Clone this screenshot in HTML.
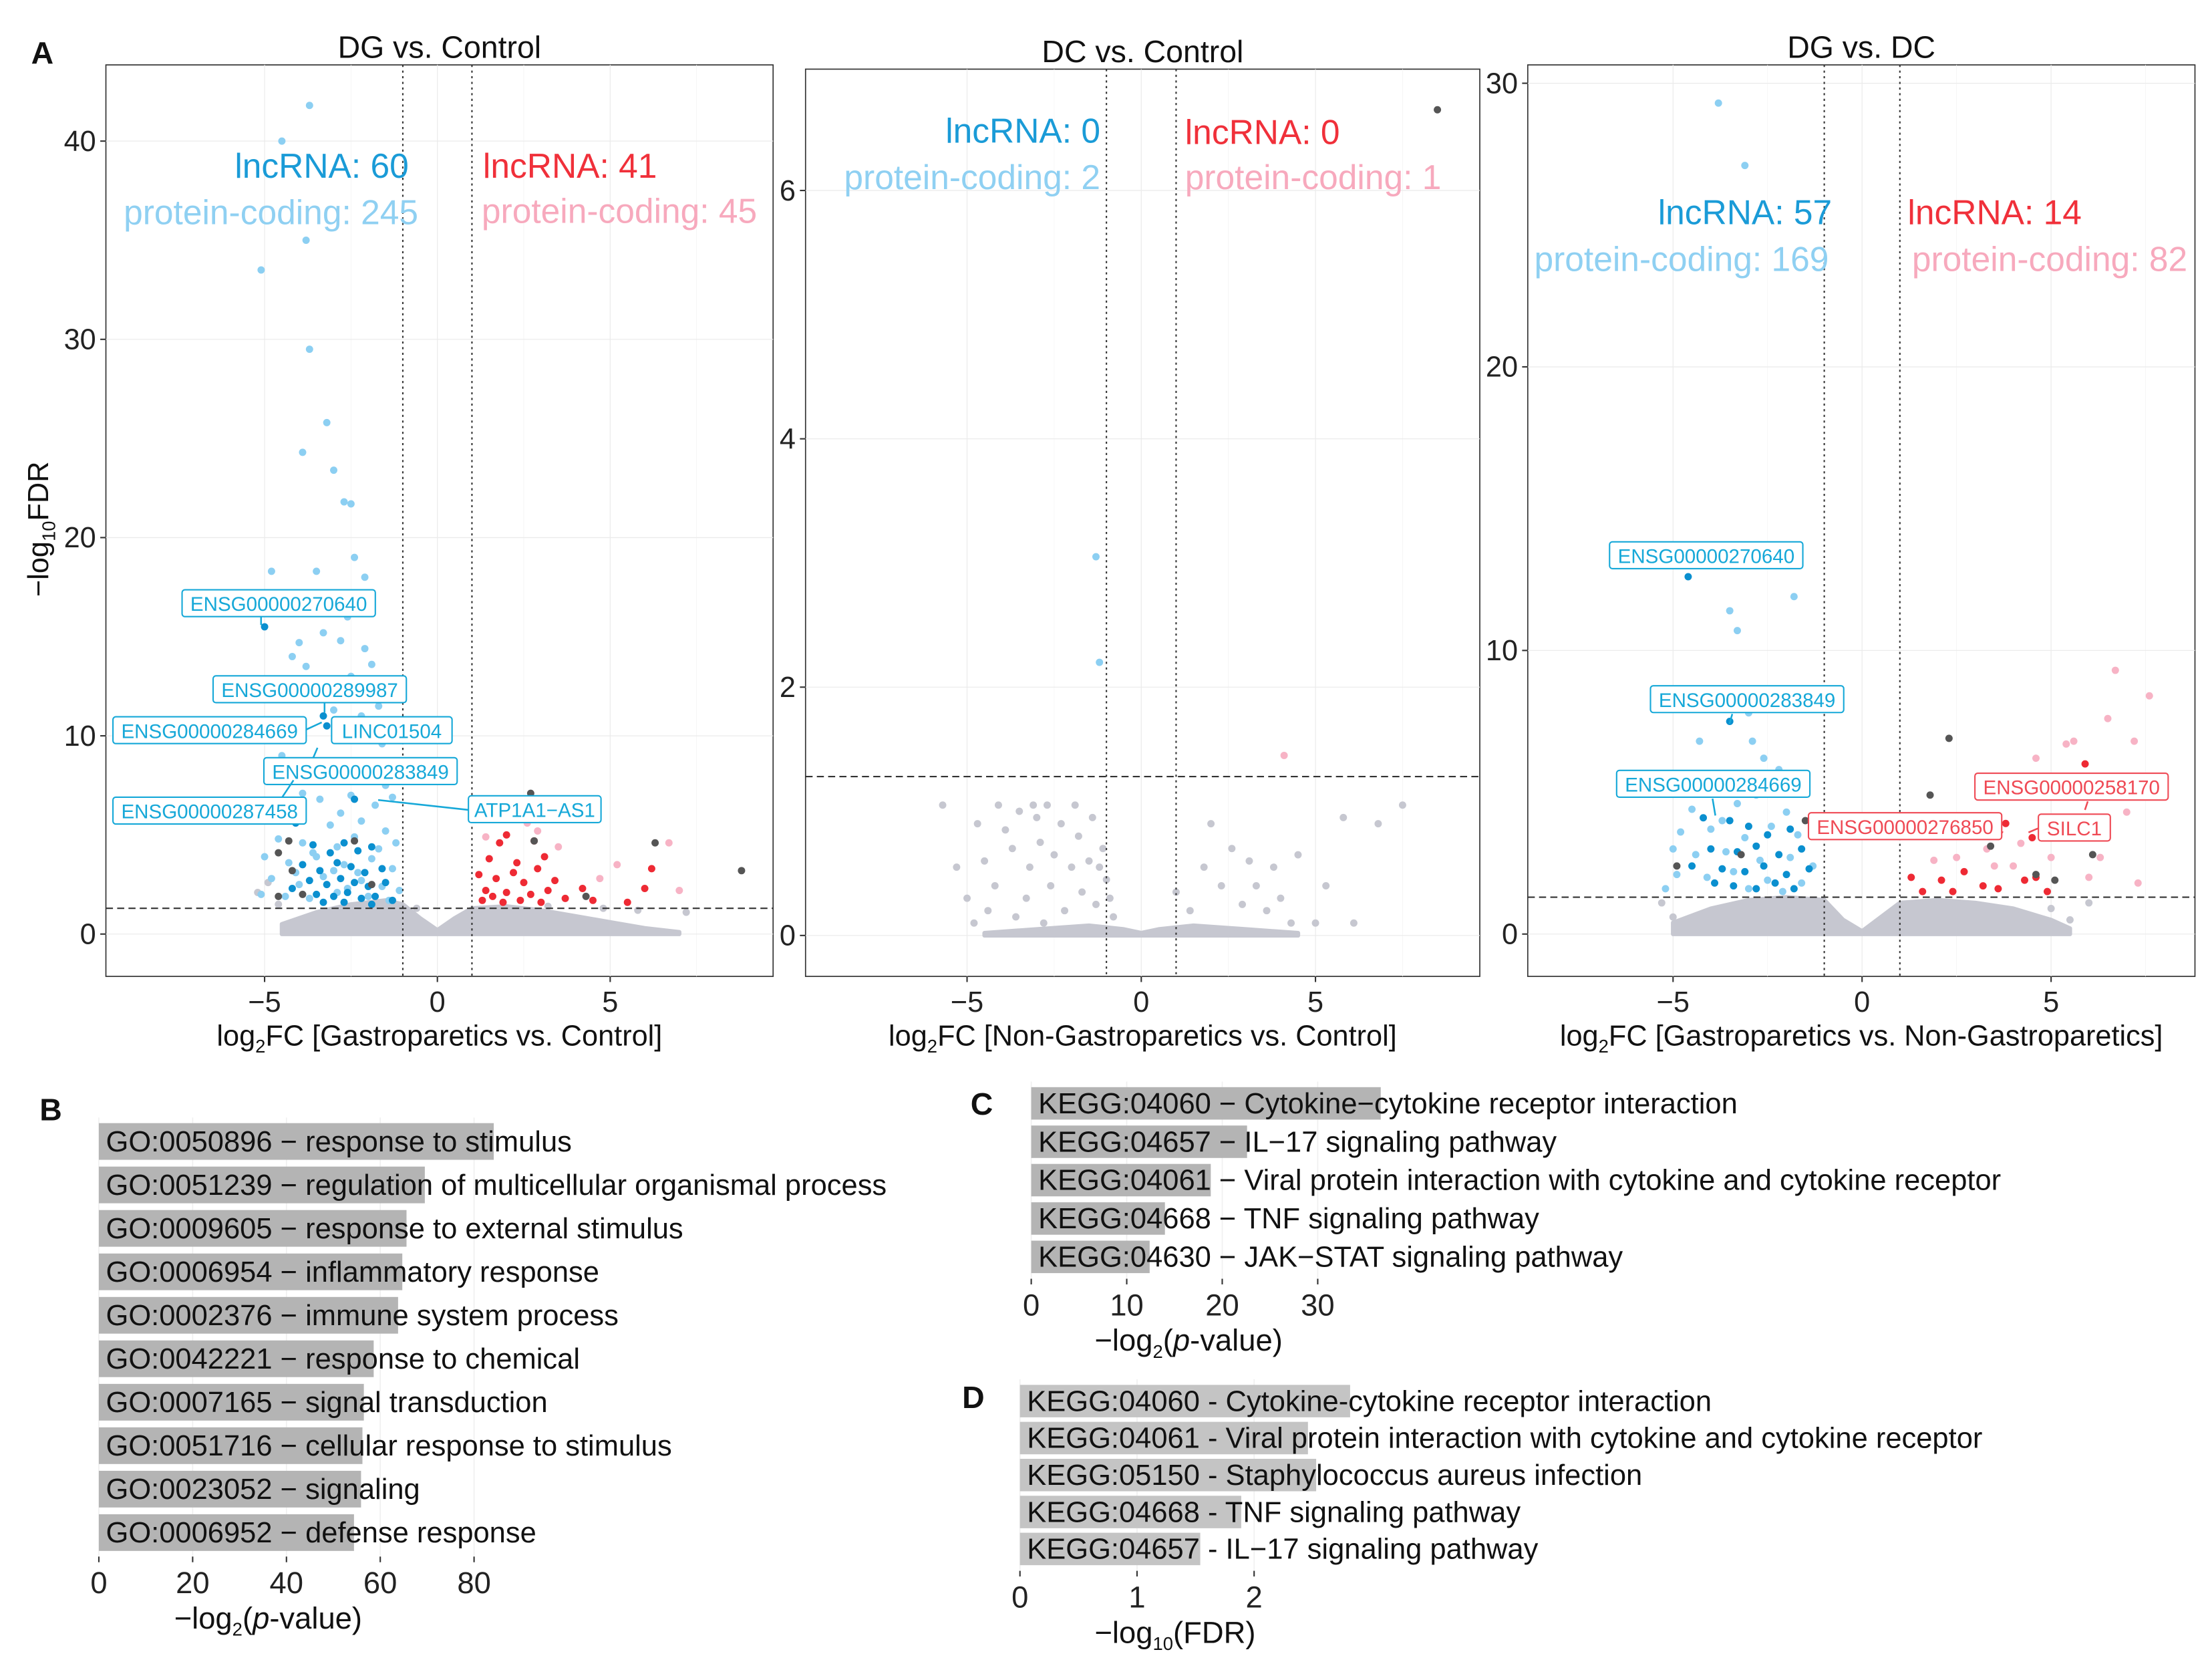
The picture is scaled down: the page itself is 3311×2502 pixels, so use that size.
<!DOCTYPE html>
<html><head><meta charset="utf-8">
<style>
html,body{margin:0;padding:0;background:#fff;}
svg{display:block;}
text{font-family:"Liberation Sans",Arial,sans-serif;}
</style></head>
<body>
<svg id="fig" width="3311" height="2502" viewBox="0 0 1568 1185" xmlns="http://www.w3.org/2000/svg">
<rect x="0" y="0" width="1568" height="1185" fill="#fff"/>
<g id="root"></g>
</svg>
<script>
// ===== Panel A1 data (DG vs Control) =====
const p1LightBlue=[[-3.7,41.8],[-4.5,40],[-3.8,35],[-5.1,33.5],[-3.7,29.5],[-3.2,25.8],[-3.9,24.3],[-3,23.4],[-2.7,21.8],[-2.5,21.7],[-2.4,19],[-4.8,18.3],[-3.5,18.3],[-2.1,18],[-2.6,16],[-2.8,14.8],[-3.3,15.2],[-4,14.7],[-2.1,14.4],[-2.5,13],[-4.2,14],[-3.8,13.5],[-1.9,13.6],[-1.7,11.5],[-3,11.3],[-2.2,11],[-2.1,10],[-1.6,9.6],[-4.5,9],[-3.6,8.2],[-2.8,8.5],[-2,8],[-1.5,7.5],[-4.9,6.5],[-3.4,6.8],[-2.5,7],[-1.8,6.5],[-1.3,6.9],[-4.2,5.8],[-3.1,5.5],[-2.2,5.7],[-1.5,5.2],[-4.6,4.8],[-3.9,4.6],[-2.9,4.4],[-2.4,4.9],[-1.2,4.6],[-5,3.9],[-4.3,3.6],[-3.5,3.9],[-2.7,3.5],[-1.9,3.8],[-1.3,3.3],[-4.8,2.8],[-4,2.5],[-3.3,2.9],[-2.2,2.7],[-1.6,2.4],[-5.1,2],[-4.4,1.9],[-3.7,1.8],[-2.9,2.1],[-2,1.9],[-1.4,1.7],[-4.1,3.1],[-3.0,3.2],[-2.6,2.3],[-1.1,2.2],[-3.6,4.1],[-2.3,3.1],[-1.7,4.3],[-2.8,6.1],[-3.9,7.1],[-1.4,8.2]];
const p1DarkBlue=[[-5,15.5],[-3.3,11],[-3.2,10.5],[-2.4,6.8],[-4.1,5.6],[-3.6,4.5],[-3.1,4.1],[-2.7,4.6],[-2.3,4.2],[-1.9,4.4],[-3.9,3.5],[-3.4,3.2],[-2.9,3.6],[-2.5,3.4],[-2.1,3.1],[-1.6,3.3],[-3.7,2.7],[-3.2,2.5],[-2.8,2.8],[-2.4,2.6],[-2.0,2.4],[-1.5,2.6],[-3.5,2.0],[-3.0,1.9],[-2.6,2.1],[-2.2,1.8],[-1.8,1.9],[-1.3,1.7],[-4.2,2.3],[-3.3,1.6],[-2.7,1.6],[-1.9,1.5]];
const p1Red=[[2,5],[1.8,4.6],[2.8,4.7],[1.5,3.8],[2.3,3.6],[3.1,3.9],[1.2,3],[1.7,2.8],[2.5,2.6],[3.4,2.7],[1.4,2.2],[2,2.1],[2.7,2.0],[3.2,2.2],[4.2,2.3],[1.3,1.7],[1.9,1.6],[2.4,1.7],[3,1.6],[3.7,1.8],[4.5,1.7],[6,2.3],[5.5,1.6],[6.2,3.3],[2.2,3.1],[1.6,1.9],[2.9,3.3]];
const p1Pink=[[6.7,4.6],[2.9,5.2],[3.5,4.4],[1.4,4.9],[7,2.2],[4.7,2.8],[5.2,3.5],[2.6,5.6]];
const p1DarkGray=[[-4.3,4.7],[-4.6,4.1],[-4.2,3.2],[-3.9,2],[-2.4,4.7],[2.7,7.1],[2.8,4.7],[6.3,4.6],[8.8,3.2],[4.3,1.9],[-4.6,1.9],[-1.9,2.5]];
const p1GrayPts=[[-5.2,2.1],[-4.9,2.6],[-4.6,1.5],[-1.6,1.2],[-0.6,1.3],[3.2,1.4],[4.8,1.3],[5.8,1.2],[7.2,1.1]];
const p1EnvX=[-4.5,-3.5,-2.5,-1.5,-1,-0.5,0,0.5,1,2,3,4,5,6,7];
const p1EnvY=[0.5,1.1,1.5,1.7,1.5,0.8,0.2,0.8,1.3,1.4,1.2,0.9,0.6,0.3,0.1];

// ===== Panel A2 data (DC vs Control) =====
const p2LightBlue=[[-1.3,3.05],[-1.2,2.2]];
const p2Pink=[[4.1,1.45]];
const p2DarkGray=[[8.5,6.65]];
const p2GrayPts=[[-5.7,1.05],[-4.7,0.9],[-4.5,0.6],[-4.2,0.4],[-4.1,1.05],[-3.9,0.85],[-3.7,0.7],[-3.5,1.0],[-3.3,0.3],[-3.2,0.55],[-3.0,0.95],[-2.9,0.75],[-2.7,1.05],[-2.6,0.4],[-2.5,0.65],[-2.3,0.9],[-2.2,0.2],[-2.0,0.55],[-1.9,1.05],[-1.8,0.8],[-1.7,0.35],[-1.5,0.6],[-1.4,0.95],[-1.3,0.25],[-1.1,0.7],[-1.0,0.45],[-0.9,0.3],[-0.8,0.15],[-5.0,0.3],[-4.8,0.1],[-4.4,0.2],[-3.6,0.15],[-2.8,0.1],[1.0,0.35],[1.4,0.2],[1.8,0.55],[2.0,0.9],[2.3,0.4],[2.6,0.7],[2.9,0.25],[3.1,0.6],[3.3,0.4],[3.6,0.2],[3.8,0.55],[4.0,0.3],[4.3,0.1],[4.5,0.65],[5.0,0.1],[5.3,0.4],[6.1,0.1],[6.8,0.9],[5.8,0.95],[7.5,1.05],[-5.3,0.55],[-3.1,1.05],[-1.2,0.55]];
const p2EnvX=[-4.5,-3,-1.5,-0.5,0,0.5,1.5,3,4.5];
const p2EnvY=[0.02,0.05,0.08,0.05,0.02,0.05,0.08,0.05,0.02];

// ===== Panel A3 data (DG vs DC) =====
const p3LightBlue=[[-3.8,29.3],[-3.1,27.1],[-3.5,11.4],[-3.3,10.7],[-1.8,11.9],[-3.4,8.5],[-3.0,7.8],[-4.3,6.8],[-2.6,6.2],[-3.8,5.5],[-2.2,5.8],[-1.6,5.0],[-4.5,4.4],[-3.3,4.6],[-2.8,4.9],[-2.0,4.3],[-4.8,3.6],[-4.0,3.7],[-3.1,3.4],[-2.4,3.8],[-1.7,3.5],[-1.2,3.9],[-4.4,2.8],[-3.6,2.9],[-2.7,2.6],[-1.9,2.7],[-1.3,2.4],[-4.9,2.1],[-4.1,2.0],[-3.4,2.2],[-2.5,1.9],[-1.6,1.8],[-5.2,1.6],[-3.0,1.6],[-2.1,1.5],[-5.0,3.0],[-2.9,6.8],[-3.7,4.0]];
const p3DarkBlue=[[-4.6,12.6],[-3.5,7.5],[-4.2,4.1],[-3.5,4.0],[-3.0,3.8],[-2.5,3.5],[-1.9,3.7],[-4.0,3.0],[-3.3,2.9],[-2.8,3.1],[-2.2,2.8],[-1.6,3.0],[-3.7,2.3],[-3.1,2.2],[-2.6,2.4],[-2.0,2.1],[-1.4,2.3],[-3.4,1.7],[-2.8,1.6],[-2.3,1.8],[-1.8,1.6],[-4.5,2.4],[-3.9,1.8]];
const p3Red=[[5.9,6.0],[3.8,3.9],[4.5,3.4],[1.3,2.0],[2.1,1.9],[2.7,2.2],[3.2,1.7],[4.6,2.0],[4.9,1.5],[1.6,1.5],[2.4,1.5],[3.6,1.6],[4.3,1.9]];
const p3Pink=[[6.7,9.3],[7.6,8.4],[7.2,6.8],[6.5,7.6],[5.4,6.7],[5.6,6.8],[4.6,6.2],[6.3,5.4],[5.1,5.0],[7.0,4.3],[3.0,3.5],[4.2,3.2],[5.6,3.5],[6.3,2.7],[3.5,2.4],[2.5,2.7],[4.0,2.4],[5.0,2.7],[6.0,2.0],[7.3,1.8],[1.9,2.6],[3.3,3.0]];
const p3DarkGray=[[-4.9,2.4],[-3.2,2.8],[-1.5,4.0],[2.3,6.9],[1.8,4.9],[6.1,2.8],[3.4,3.1],[4.6,2.1],[5.1,1.9]];
const p3GrayPts=[[-5.0,0.6],[-5.3,1.1],[-4.8,0.3],[5.0,0.9],[6.0,1.1],[5.5,0.5],[2.0,1.2]];
const p3EnvX=[-5,-4,-3,-2,-1,-0.5,0,0.5,1,2,3,4,5,5.5];
const p3EnvY=[0.4,0.9,1.2,1.3,1.2,0.5,0.1,0.6,1.1,1.2,1.1,0.9,0.5,0.2];

// ===== Bar charts =====
const goTerms=["GO:0050896 \u2212 response to stimulus","GO:0051239 \u2212 regulation of multicellular organismal process","GO:0009605 \u2212 response to external stimulus","GO:0006954 \u2212 inflammatory response","GO:0002376 \u2212 immune system process","GO:0042221 \u2212 response to chemical","GO:0007165 \u2212 signal transduction","GO:0051716 \u2212 cellular response to stimulus","GO:0023052 \u2212 signaling","GO:0006952 \u2212 defense response"];
const goValues=[84.2,69.5,65.6,64.7,63.8,58.6,56.5,56.2,55.9,54.4];
const goTicks=[0,20,40,60,80];
const keggCTerms=["KEGG:04060 \u2212 Cytokine\u2212cytokine receptor interaction","KEGG:04657 \u2212 IL\u221217 signaling pathway","KEGG:04061 \u2212 Viral protein interaction with cytokine and cytokine receptor","KEGG:04668 \u2212 TNF signaling pathway","KEGG:04630 \u2212 JAK\u2212STAT signaling pathway"];
const keggCValues=[36.6,22.6,18.8,14.0,12.4];
const keggCTicks=[0,10,20,30];
const keggDTerms=["KEGG:04060 - Cytokine-cytokine receptor interaction","KEGG:04061 - Viral protein interaction with cytokine and cytokine receptor","KEGG:05150 - Staphylococcus aureus infection","KEGG:04668 - TNF signaling pathway","KEGG:04657 - IL\u221217 signaling pathway"];
const keggDValues=[2.82,2.46,2.53,1.89,1.54];
const keggDTicks=[0,1,2];

const NS="http://www.w3.org/2000/svg";
const root=document.getElementById('root');
function el(tag,attrs,parent,txt){const e=document.createElementNS(NS,tag);for(const k in attrs)e.setAttribute(k,attrs[k]);if(txt!==undefined)e.textContent=txt;(parent||root).appendChild(e);return e;}

const C={lb:"#8ccff2",db:"#0a8fcf",red:"#ee2a34",pink:"#f7b3c5",dg:"#555555",gray:"#c6c7d0"};

function volcano(cfg){
  const g=el('g',{});
  
  
  const sx=v=>cfg.x0+v*cfg.kx, sy=v=>cfg.y0-v*cfg.ky;
  el('rect',{x:cfg.bx,y:cfg.by,width:cfg.bw,height:cfg.bh,fill:'#fff',stroke:'#333','stroke-width':0.8},g);
  cfg.xt.forEach(t=>{el('line',{x1:sx(t),x2:sx(t),y1:cfg.by,y2:cfg.by+cfg.bh,stroke:'#ebebeb','stroke-width':0.6},g);});
  cfg.xt.forEach(t=>{el('line',{x1:sx(t+2.5),x2:sx(t+2.5),y1:cfg.by,y2:cfg.by+cfg.bh,stroke:'#f4f4f4','stroke-width':0.4},g);});
  cfg.yt.forEach(t=>{el('line',{x1:cfg.bx,x2:cfg.bx+cfg.bw,y1:sy(t),y2:sy(t),stroke:'#ebebeb','stroke-width':0.6},g);});
  let d=`M${sx(cfg.envX[0])},${sy(0)}`;
  cfg.envX.forEach((x,i)=>{d+=` L${sx(x)},${sy(cfg.envY[i])}`;});
  d+=` L${sx(cfg.envX[cfg.envX.length-1])},${sy(0)} Z`;
  const env=el('path',{d:d,fill:C.gray,stroke:C.gray,'stroke-width':3,'stroke-linejoin':'round'},g);
  
  
  const dot=(arr,col,nm)=>arr.forEach(p=>{const c=el('circle',{cx:sx(p[0]),cy:sy(p[1]),r:2.6,fill:col},g);});
  dot(cfg.gray,C.gray,'point-nonsignificant');
  dot(cfg.lb,C.lb,'point-down-protein-coding');
  dot(cfg.pink,C.pink,'point-up-protein-coding');
  dot(cfg.db,C.db,'point-down-lncrna');
  dot(cfg.red,C.red,'point-up-lncrna');
  dot(cfg.dg,C.dg,'point-other');
  [-1,1].forEach(v=>el('line',{x1:sx(v),x2:sx(v),y1:cfg.by,y2:cfg.by+cfg.bh,stroke:'#333','stroke-width':1,'stroke-dasharray':'1.5,2.5'},g));
  el('line',{x1:cfg.bx,x2:cfg.bx+cfg.bw,y1:sy(cfg.thr),y2:sy(cfg.thr),stroke:'#333','stroke-width':1,'stroke-dasharray':'5,3'},g);
  cfg.xt.forEach(t=>{el('line',{x1:sx(t),x2:sx(t),y1:cfg.by+cfg.bh,y2:cfg.by+cfg.bh+4,stroke:'#333'},g);
    const tx=el('text',{x:sx(t),y:cfg.by+cfg.bh+25,'text-anchor':'middle','font-size':20.5,fill:'#222'},g,t<0?'\u2212'+(-t):String(t));});
  cfg.yt.forEach(t=>{el('line',{x1:cfg.bx-4,x2:cfg.bx,y1:sy(t),y2:sy(t),stroke:'#333'},g);
    const tx=el('text',{x:cfg.bx-7,y:sy(t)+7,'text-anchor':'end','font-size':20.5,fill:'#222'},g,String(t));});
  const ti=el('text',{x:cfg.bx+cfg.bw/2,y:cfg.by-5,'text-anchor':'middle','font-size':22,fill:'#111'},g,cfg.title);
  
  const xl=el('text',{x:cfg.bx+cfg.bw/2,y:cfg.by+cfg.bh+49,'text-anchor':'middle','font-size':20.5,fill:'#111'},g);
  
  el('tspan',{},xl,'log');el('tspan',{'font-size':13,dy:5},xl,'2');el('tspan',{dy:-5},xl,'FC '+cfg.xlab);
  cfg.counts.forEach(c=>{const t=el('text',{x:c[0],y:c[1],'text-anchor':c[4]||'middle','font-size':24.4,fill:c[3]},g,c[2]);});
  (cfg.genes||[]).forEach(q=>{
    const w=q[2].length*8.6+8;
    const col=q[3];
    if(q[4])el('line',{x1:q[4][0],y1:q[4][1],x2:q[4][2],y2:q[4][3],stroke:col,'stroke-width':1.2},g);
    const r=el('rect',{x:q[0],y:q[1]-10,width:w,height:19,fill:'#fff',stroke:col,'stroke-width':1,rx:2},g);
    
    const t=el('text',{x:q[0]+w/2,y:q[1]+5,'text-anchor':'middle','font-size':14,fill:col},g,q[2]);
    
  });
}

const blue="#1a9bd7", lblue="#8fd0f2", red="#f0303a", pink="#f7a9bd", gb="#16a8d8", gr="#ef4a55";
volcano({name:'volcano-dg-vs-control',bx:75,by:46,bw:473,bh:646,x0:310,kx:24.5,y0:662,ky:14.05,xt:[-5,0,5],yt:[0,10,20,30,40],thr:1.3,
 lb:p1LightBlue,db:p1DarkBlue,red:p1Red,pink:p1Pink,dg:p1DarkGray,gray:p1GrayPts,envX:p1EnvX,envY:p1EnvY,
 title:'DG vs. Control',xlab:'[Gastroparetics vs. Control]',
 counts:[[228,126,'lncRNA: 60',blue],[192,159,'protein-coding: 245',lblue],[404,126,'lncRNA: 41',red],[439,158,'protein-coding: 45',pink]],
 genes:[[129,428,'ENSG00000270640',gb,[185,437,185,443]],[151,489,'ENSG00000289987',gb,[230,498,230,505]],[80,518,'ENSG00000284669',gb,[215,518,228,512]],[235,518,'LINC01504',gb],[187,547,'ENSG00000283849',gb,[222,537,225,530]],[80,575,'ENSG00000287458',gb,[200,565,208,553]],[332,574,'ATP1A1\u2212AS1',gb,[268,567,332,574]]]});
volcano({name:'volcano-dc-vs-control',bx:571,by:49,bw:478,bh:643,x0:809,kx:24.7,y0:663,ky:88,xt:[-5,0,5],yt:[0,2,4,6],thr:1.28,
 lb:p2LightBlue,db:[],red:[],pink:p2Pink,dg:p2DarkGray,gray:p2GrayPts,envX:p2EnvX,envY:p2EnvY,
 title:'DC vs. Control',xlab:'[Non-Gastroparetics vs. Control]',
 counts:[[780,101,'lncRNA: 0',blue,'end'],[780,134,'protein-coding: 2',lblue,'end'],[840,102,'lncRNA: 0',red,'start'],[840,134,'protein-coding: 1',pink,'start']]});
volcano({name:'volcano-dg-vs-dc',bx:1083,by:46,bw:473,bh:646,x0:1320,kx:26.8,y0:662,ky:20.1,xt:[-5,0,5],yt:[0,10,20,30],thr:1.3,
 lb:p3LightBlue,db:p3DarkBlue,red:p3Red,pink:p3Pink,dg:p3DarkGray,gray:p3GrayPts,envX:p3EnvX,envY:p3EnvY,
 title:'DG vs. DC',xlab:'[Gastroparetics vs. Non-Gastroparetics]',
 counts:[[1237,159,'lncRNA: 57',blue],[1192,192,'protein-coding: 169',lblue],[1414,159,'lncRNA: 14',red],[1453,192,'protein-coding: 82',pink]],
 genes:[[1141,394,'ENSG00000270640',gb],[1170,496,'ENSG00000283849',gb,[1228,506,1226,513]],[1146,556,'ENSG00000284669',gb,[1214,566,1216,578]],[1282,586,'ENSG00000276850',gr,[1410,586,1420,590]],[1400,558,'ENSG00000258170',gr,[1480,568,1478,574]],[1445,587,'SILC1',gr,[1445,587,1438,590]]]});

[['A',22,45],['B',28,794],['C',688,790],['D',682,998]].forEach(p=>{const t=el('text',{x:p[1],y:p[2],'font-size':22,'font-weight':'bold',fill:'#111'},root,p[0]);});
{const t=el('text',{transform:'translate(34,375) rotate(-90)','text-anchor':'middle','font-size':20.5,fill:'#111'});
 
 el('tspan',{},t,'\u2212log');el('tspan',{'font-size':13,dy:5},t,'10');el('tspan',{dy:-5},t,'FDR');}

function barChart(cfg){
  const g=el('g',{});
  
  
  const sx=v=>cfg.x0+v*cfg.k;
  const maxT=cfg.ticks[cfg.ticks.length-1];
  cfg.ticks.forEach(t=>el('line',{x1:sx(t),x2:sx(t),y1:cfg.ys[0]-cfg.h/2-4,y2:cfg.ys[cfg.ys.length-1]+cfg.h/2+4,stroke:'#f0f0f0','stroke-width':0.8},g));
  cfg.values.forEach((v,i)=>{
    const r=el('rect',{x:sx(0),y:cfg.ys[i]-cfg.h/2,width:v*cfg.k,height:cfg.h,fill:cfg.fill},g);
    
    const t=el('text',{x:sx(0)+5,y:cfg.ys[i]+7,'font-size':20.6,fill:'#111'},g,cfg.terms[i]);
    
  });
  const axY=cfg.ys[cfg.ys.length-1]+cfg.h/2+4;
  cfg.ticks.forEach(t=>{el('line',{x1:sx(t),x2:sx(t),y1:axY,y2:axY+4,stroke:'#333'},g);
    const tx=el('text',{x:sx(t),y:axY+26,'text-anchor':'middle','font-size':21.5,fill:'#222'},g,String(t));});
  const xl=el('text',{x:sx(maxT/2)+cfg.lo,y:axY+51,'text-anchor':'middle','font-size':21.5,fill:'#111'},g);
  
  cfg.xlab(xl);
}
const rows=(s,step,n)=>Array.from({length:n},(_,i)=>s+i*step);
barChart({name:'go-bar-chart-b',x0:70,k:3.325,h:26,ys:rows(809,30.8,10),values:goValues,terms:goTerms,ticks:goTicks,fill:'#b4b4b4',lo:-13,
 xlab:t=>{el('tspan',{},t,'\u2212log');el('tspan',{'font-size':13,dy:5},t,'2');el('tspan',{dy:-5},t,'(');el('tspan',{'font-style':'italic'},t,'p');el('tspan',{},t,'-value)');}});
barChart({name:'kegg-bar-chart-c',x0:731,k:6.77,h:23,ys:rows(782,27.2,5),values:keggCValues,terms:keggCTerms,ticks:keggCTicks,fill:'#b4b4b4',lo:10,
 xlab:t=>{el('tspan',{},t,'\u2212log');el('tspan',{'font-size':13,dy:5},t,'2');el('tspan',{dy:-5},t,'(');el('tspan',{'font-style':'italic'},t,'p');el('tspan',{},t,'-value)');}});
barChart({name:'kegg-bar-chart-d',x0:723,k:83,h:23,ys:rows(993,26.2,5),values:keggDValues,terms:keggDTerms,ticks:keggDTicks,fill:'#c4c4c4',lo:27,
 xlab:t=>{el('tspan',{},t,'\u2212log');el('tspan',{'font-size':13,dy:5},t,'10');el('tspan',{dy:-5},t,'(FDR)');}});
</script>
</body></html>
